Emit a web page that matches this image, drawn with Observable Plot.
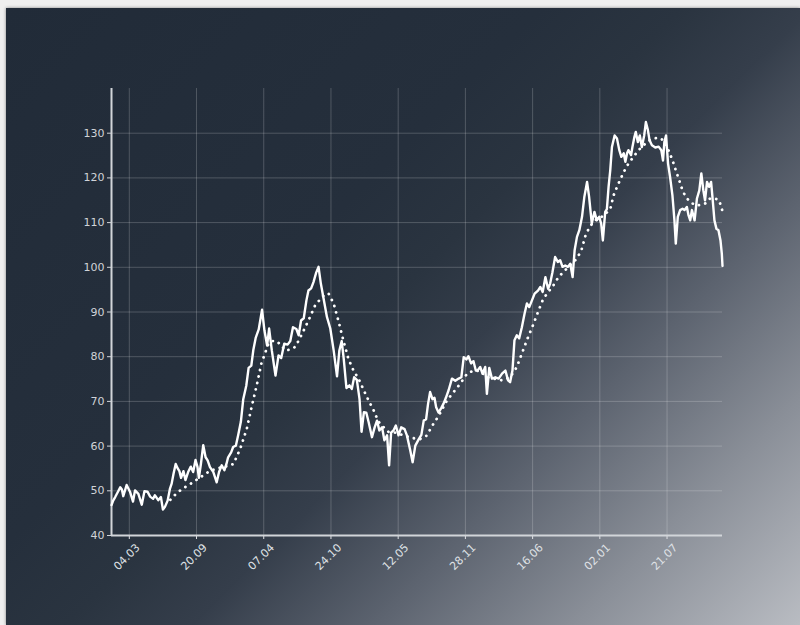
<!DOCTYPE html>
<html>
<head>
<meta charset="utf-8">
<script src="https://cdn.jsdelivr.net/npm/d3@7"></script>
<script src="https://cdn.jsdelivr.net/npm/@observablehq/plot@0.6"></script>
<style>
  html, body { margin: 0; padding: 0; width: 800px; height: 625px; overflow: hidden; background: #efefef; }
  #panel { position: absolute; left: 6px; top: 8px; width: 794px; height: 617px;
    background: linear-gradient(135deg, #212b38 0%, #252f3c 38%, #2a3440 48%, #353e4b 57%, #5d6470 70%, #8a8f98 84%, #b9bcc2 100%);
    box-shadow: 0 0 3px rgba(0,0,0,0.45); }
  #chart { position: absolute; left: 0; top: 0; }
</style>
</head>
<body>
<div id="panel"></div>
<div id="chart"></div>
<script>
// Series start (day 0) and the x values as days since that start
const startDate = "2019-01-10";
const endDay = 1818;

// Price series (white solid line)
const priceDays = [0,5,11,20,26,31,35,45,55,64,70,80,90,98,107,115,124,129,139,147,153,159,167,174,179,185,191,197,202,207,214,220,228,236,243,250,256,260,266,273,280,286,293,303,313,320,328,336,342,347,356,362,370,377,385,392,401,408,416,422,429,438,448,455,463,469,477,488,497,505,514,524,532,540,550,557,564,572,580,586,594,601,609,616,623,631,641,651,661,671,678,685,691,699,708,715,722,730,738,744,751,758,765,775,783,790,797,805,812,820,826,832,839,846,854,862,872,879,889,896,904,914,922,929,936,942,948,955,961,966,973,981,988,995,1003,1013,1023,1033,1041,1048,1056,1062,1070,1077,1084,1090,1097,1104,1112,1117,1124,1132,1142,1152,1162,1172,1180,1186,1193,1199,1206,1213,1221,1229,1236,1243,1251,1259,1269,1276,1283,1291,1299,1305,1312,1320,1328,1335,1342,1350,1358,1365,1372,1378,1385,1392,1400,1407,1415,1421,1429,1437,1444,1451,1457,1462,1469,1474,1479,1484,1489,1497,1504,1511,1517,1524,1529,1534,1538,1546,1550,1556,1560,1566,1572,1578,1585,1590,1596,1601,1608,1618,1628,1636,1641,1645,1650,1656,1662,1669,1675,1679,1685,1692,1699,1705,1712,1717,1722,1727,1735,1742,1749,1755,1761,1766,1772,1778,1784,1788,1794,1800,1806,1812,1816,1818];
const priceValues = [46.8,47.8,48.6,49.9,50.8,50.3,48.8,51.3,49.8,47.6,50.1,49.3,46.9,49.9,49.8,48.7,48.2,49,47.9,48.6,45.8,46.4,47.8,50.5,51.6,54,56,55,54.4,52.9,54.4,52.4,54.2,55.4,54.2,56.9,55.3,52.9,56,60.2,57.5,56.8,55.3,54.2,51.9,54.2,55.7,54.6,56,57.5,58.6,59.8,60.1,62.5,65.5,70.5,73.5,77.5,78,81.5,84.2,86.1,90.5,85.9,82.5,86.3,81.4,75.8,80.3,79.7,82.9,82.7,83.5,86.6,86.2,84.8,88.1,88.6,92.6,94.8,95.3,96.7,98.8,100.1,96.3,93,88.9,86.3,81.4,75.6,81.4,83.5,79.5,73,73.6,72.8,75.4,74.8,70.5,63.2,67.6,67.5,65.4,62,64.2,65.7,63.5,64.2,61.3,62.4,55.7,63,63.5,64.6,62.4,64.2,63.8,62.4,59,56.4,60.1,61.5,62.5,65.7,66,69.5,72.1,70.5,70.8,68.7,67.5,68.5,69.5,70.8,72.5,75.1,74.6,75.1,75.4,79.9,79.4,80.1,78.5,79,76.9,77,77.7,76.2,77.7,71.7,77.5,75.1,75.4,75.1,76.2,76.9,74.7,74.3,76.9,83.7,84.8,84.1,86.6,89.6,91.9,91.1,92.6,94.1,94.8,95.6,94.5,97.8,95.2,96.3,98.9,102.3,101.2,101.6,100.1,100.4,100.1,100.8,97.8,103.8,106.8,108.3,111.3,115.8,119.1,115.8,109.8,112.4,110.5,111.3,109.8,106,112.4,113,118,121.7,126.9,129.5,128.8,126.2,124.7,125.5,123.6,125.5,126.2,125.1,126.9,129.2,130.3,128,129.5,126.9,129.5,132.5,130.7,128.4,127.3,126.8,127,126.2,123.9,128,129.5,123.2,120.2,116.1,110.5,105.3,111.3,112.8,113.1,112.8,113.5,111.6,110.5,112.8,110.5,115.4,117.2,121,117.2,115,119.1,118,119.1,115.8,110.5,108.6,108.3,106,103,100.3];

// Moving average (white dotted line)
const avgDays = [175,193,210,234,264,294,324,348,363,383,403,418,433,446,458,467,478,492,505,517,532,547,567,586,606,626,636,646,661,676,690,705,720,735,753,765,780,794,810,824,844,869,894,919,937,958,973,998,1018,1038,1058,1077,1097,1117,1137,1162,1186,1206,1221,1236,1256,1271,1285,1300,1315,1330,1345,1360,1380,1397,1410,1422,1439,1463,1484,1494,1507,1524,1538,1553,1568,1583,1598,1613,1628,1643,1657,1669,1679,1689,1699,1709,1722,1737,1752,1767,1781,1796,1808,1817];
const avgValues = [48,49.4,50.4,51.5,53,54.5,55.2,55.6,56,59.4,64,69.1,73.9,78.5,81,82.9,83.5,83.5,82.5,81.4,81.6,82.2,85.1,88.1,91.5,93.3,94,94.1,91.9,87.8,83.6,79.5,76.9,75.1,72.1,70.2,68,65.5,64.2,63.2,63,62.4,61.8,61.6,62.3,65,66.7,70.2,72.1,74,76.2,76.9,76.8,75.4,75.1,74.7,75.4,77.7,80.7,83.7,87.4,90.4,93,94.5,96,97.8,99,100.1,101.6,103.5,107,109,110.5,111.5,113,116.1,118.5,121.3,123.2,124.7,126.2,127.3,128.3,128.8,129,128.4,126.2,124,121.7,119.5,117.2,115.7,114.6,113.9,113.9,114.3,115.4,115.4,115,112.8];

// Axis ticks
const xTickDates = ["2019-03-04","2019-09-20","2020-04-07","2020-10-24","2021-05-12","2021-11-28","2022-06-16","2023-01-02","2023-07-21"];
const yTicks = [40,50,60,70,80,90,100,110,120,130];
const yGrid = [50,60,70,80,90,100,110,120,130];

const t0 = new Date(startDate + "T00:00:00Z").getTime();
const toDate = d => new Date(t0 + d * 864e5);
const price = priceDays.map((d, i) => ({date: toDate(d), value: priceValues[i]}));
const avg = avgDays.map((d, i) => ({date: toDate(d), value: avgValues[i]}));
const xTicks = xTickDates.map(s => new Date(s + "T00:00:00Z"));
const fmt = d3.utcFormat("%d.%m");

const chart = Plot.plot({
  width: 800,
  height: 625,
  marginLeft: 111,
  marginRight: 78,
  marginTop: 88,
  marginBottom: 90,
  style: {background: "transparent", fontFamily: "DejaVu Sans", fontSize: "11px", color: "#d0d3d8"},
  x: {type: "utc", domain: [toDate(0), toDate(endDay)]},
  y: {domain: [40, 140]},
  marks: [
    Plot.gridX(xTicks, {stroke: "#ffffff", strokeOpacity: 0.2, strokeWidth: 1}),
    Plot.gridY(yGrid, {stroke: "#ffffff", strokeOpacity: 0.2, strokeWidth: 1}),
    Plot.axisY({ticks: yTicks, tickSize: 4, tickPadding: 3, label: null, fontSize: 11, color: "#d0d3d8"}),
    Plot.axisX({ticks: xTicks, tickSize: 4, tickFormat: () => "", label: null, color: "#e0e2e6"}),
    Plot.text(xTicks, {x: d => d, frameAnchor: "bottom", dy: 24, rotate: -45, text: d => fmt(d),
      fontSize: 11, fill: "#dfe1e5", textAnchor: "middle"}),
    Plot.ruleX([toDate(0)], {stroke: "#d2d5d9", strokeWidth: 2}),
    Plot.ruleY([40], {stroke: "#d2d5d9", strokeWidth: 2}),
    Plot.line(avg, {x: "date", y: "value", stroke: "#ffffff", strokeWidth: 2.8,
      strokeDasharray: "0.1,6.5", strokeLinecap: "round"}),
    Plot.line(price, {x: "date", y: "value", stroke: "#ffffff", strokeWidth: 2.4,
      strokeLinejoin: "round", strokeLinecap: "round"})
  ]
});
document.getElementById("chart").appendChild(chart);
</script>
</body>
</html>
